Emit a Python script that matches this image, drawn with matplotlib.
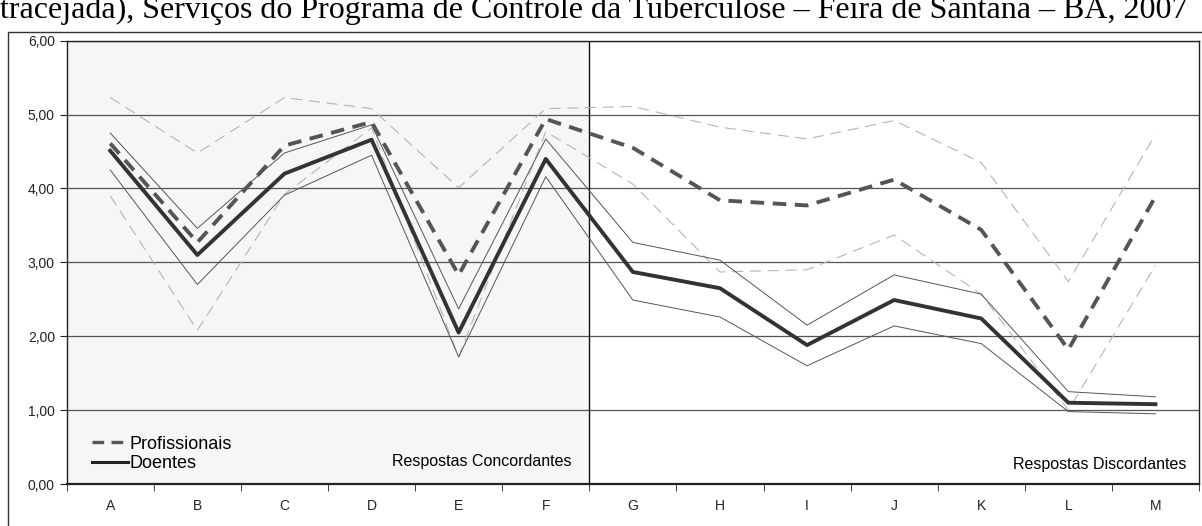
import matplotlib.pyplot as plt
from matplotlib.patches import Rectangle
from matplotlib.lines import Line2D

categorias = ['A', 'B', 'C', 'D', 'E', 'F', 'G', 'H', 'I', 'J', 'K', 'L', 'M']

# Profissionais (tracejada): media e intervalo
prof_media = [4.61, 3.27, 4.58, 4.90, 2.83, 4.94, 4.55, 3.84, 3.77, 4.12, 3.44, 1.82, 3.89]
prof_sup = [5.23, 4.48, 5.23, 5.08, 4.01, 5.08, 5.11, 4.83, 4.67, 4.92, 4.35, 2.74, 4.73]
prof_inf = [3.90, 2.08, 3.92, 4.82, 1.72, 4.77, 4.06, 2.87, 2.90, 3.37, 2.57, 1.00, 2.96]

# Doentes (continua): media e intervalo
doe_media = [4.51, 3.10, 4.20, 4.66, 2.05, 4.40, 2.87, 2.65, 1.88, 2.49, 2.24, 1.10, 1.08]
doe_sup = [4.75, 3.46, 4.48, 4.86, 2.37, 4.67, 3.27, 3.03, 2.15, 2.83, 2.57, 1.25, 1.18]
doe_inf = [4.25, 2.70, 3.91, 4.45, 1.72, 4.16, 2.49, 2.26, 1.60, 2.14, 1.90, 0.98, 0.95]

y_ticks = [0, 1, 2, 3, 4, 5, 6]
titulo = "tracejada), Serviços do Programa de Controle da Tuberculose – Feira de Santana – BA, 2007"

plt.rcParams['font.family'] = ['Liberation Sans', 'DejaVu Sans']

fig = plt.figure(figsize=(12.02, 5.26), dpi=100)
ax = fig.add_axes([66.7 / 1202, 1 - 484 / 526, (1199 - 66.7) / 1202, (484 - 40.7) / 526])

x = list(range(len(categorias)))
n_conc = 6

# fundo da parte concordante
ax.axvspan(-0.5, n_conc - 0.5, color='#f6f6f6', zorder=0, lw=0)
ax.axvline(n_conc - 0.5, color='#111111', lw=1, zorder=2)

ax.set_yticks(y_ticks)
ax.set_yticklabels([('%.2f' % v).replace('.', ',') for v in y_ticks])
ax.yaxis.grid(True, color='#555555', lw=0.9)
ax.set_axisbelow(True)

ax.plot(x, prof_sup, color='#b5b5b5', lw=0.8, dashes=(10, 6), zorder=3)
ax.plot(x, prof_inf, color='#b5b5b5', lw=0.8, dashes=(10, 6), zorder=3)
ax.plot(x, doe_sup, color='#555555', lw=0.7, zorder=3)
ax.plot(x, doe_inf, color='#555555', lw=0.7, zorder=3)
ax.plot(x, doe_media, color='#333333', lw=2.8, zorder=4)
ax.plot(x, prof_media, color='#555555', lw=2.8, dashes=(3.5, 2.2), zorder=5)

ax.set_xlim(-0.5, len(categorias) - 0.5)
ax.set_ylim(0, 6)
ax.set_xticks(x)
ax.set_xticklabels(categorias)
ax.set_xticks([i - 0.5 for i in range(len(categorias) + 1)], minor=True)
ax.tick_params(axis='x', which='major', length=0, pad=11, labelsize=10, colors='#222222')
ax.tick_params(axis='x', which='minor', length=5, direction='out', color='#222222')
ax.tick_params(axis='y', length=5, direction='out', labelsize=10, colors='#222222')

for s in ax.spines.values():
    s.set_color('#222222')
    s.set_linewidth(1)
ax.spines['bottom'].set_linewidth(1.6)

handles = [Line2D([0], [0], color='#555555', lw=2.4, dashes=(3.5, 2.2)),
           Line2D([0], [0], color='#222222', lw=2.2)]
ax.legend(handles, ['Profissionais', 'Doentes'], loc='lower left', bbox_to_anchor=(0.016, 0.01),
          frameon=False, fontsize=13, handlelength=2.0, handletextpad=0.1, labelspacing=0.15,
          borderaxespad=0)

ax.text(5.29, 0.30, 'Respostas Concordantes', ha='right', va='center', fontsize=11.5)
ax.text(12.35, 0.26, 'Respostas Discordantes', ha='right', va='center', fontsize=11.5)

# moldura externa e titulo cortado
fig.patches.append(Rectangle((8 / 1202, -0.2), 2, 1.2 - 32 / 526, transform=fig.transFigure,
                             fill=False, edgecolor='#333333', lw=1))
fig.text(0.0, 1 - 18 / 526, titulo, family=['Liberation Serif', 'DejaVu Serif'], fontsize=23,
         va='baseline', ha='left')

fig.savefig('out.png', dpi=100)
